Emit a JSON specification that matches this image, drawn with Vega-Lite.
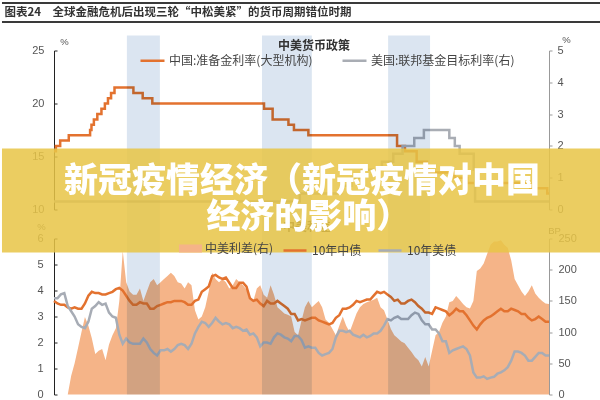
{
  "$schema": "https://vega.github.io/schema/vega-lite/v6.json",
  "padding": {"left": 0, "top": 1.5, "right": 0, "bottom": 0},
  "bounds": "flush",
  "spacing": 29,
  "config": {
    "view": {"stroke": null},
    "font": "Liberation Sans, Noto Sans CJK SC",
    "axis": {"labelFont": "Liberation Sans", "labelFontSize": 11, "labelColor": "#555", "grid": false, "domainWidth": 1, "tickWidth": 1, "titleFont": "Liberation Sans", "titleFontSize": 9.5, "titleFontWeight": "normal", "titleColor": "#555", "titleAngle": 0, "titleAlign": "center", "titleBaseline": "middle"},
    "legend": {"labelFont": "Noto Sans CJK SC", "labelFontSize": 12, "labelColor": "#444"}
  },
  "resolve": {
    "scale": {"color": "independent", "fill": "independent", "stroke": "independent"},
    "legend": {"color": "independent", "fill": "independent", "stroke": "independent"}
  },
  "datasets": {
    "rrr": [
      {"m": 0, "v": 15.5}, {"m": 0.55, "v": 16}, {"m": 1.8, "v": 16.5}, {"m": 4.3, "v": 17}, {"m": 10.5, "v": 17.5}, {"m": 10.9, "v": 18}, {"m": 11.6, "v": 18.5}, {"m": 12.6, "v": 19}, {"m": 13.8, "v": 19.5}, {"m": 14.8, "v": 20}, {"m": 15.7, "v": 20.5}, {"m": 16.6, "v": 21}, {"m": 17.6, "v": 21.5}, {"m": 23.1, "v": 21}, {"m": 25.8, "v": 20.5}, {"m": 28.6, "v": 20}, {"m": 61.1, "v": 19.5}, {"m": 63.6, "v": 18.5}, {"m": 68.2, "v": 18}, {"m": 69.8, "v": 17.5}, {"m": 74, "v": 17}, {"m": 99.8, "v": 16}, {"m": 102.1, "v": 15.5}, {"m": 105.5, "v": 14.5}, {"m": 108.5, "v": 14}, {"m": 108.8, "v": 13.5}, {"m": 116.5, "v": 13}, {"m": 120.2, "v": 12.5}, {"m": 138.5, "v": 12}, {"m": 143.5, "v": 11.5}, {"m": 144, "v": 11.5}
    ],
    "ffr": [
      {"m": 0, "v": 0.25}, {"m": 71.5, "v": 0.5}, {"m": 83.5, "v": 0.75}, {"m": 86.5, "v": 1}, {"m": 89.5, "v": 1.25}, {"m": 95.4, "v": 1.5}, {"m": 98.7, "v": 1.75}, {"m": 101.4, "v": 2}, {"m": 104.8, "v": 2.25}, {"m": 107.6, "v": 2.5}, {"m": 115, "v": 2.25}, {"m": 116.6, "v": 2}, {"m": 118, "v": 1.75}, {"m": 122.1, "v": 1.25}, {"m": 122.5, "v": 0.25}, {"m": 144, "v": 0.25}
    ],
    "bands": [
      {"s": 21.2, "e": 30.8}, {"s": 60.5, "e": 75}, {"s": 97.2, "e": 109.4}
    ],
    "bond": [
      {"m": 0, "cn": 3.6, "us": 3.7, "sp": 0}, {"m": 1, "cn": 3.5, "us": 3.7, "sp": 0}, {"m": 2, "cn": 3.45, "us": 3.85, "sp": 0}, {"m": 3, "cn": 3.45, "us": 3.9, "sp": 0}, {"m": 4, "cn": 3.35, "us": 3.4, "sp": 0}, {"m": 5, "cn": 3.3, "us": 3.2, "sp": 30}, {"m": 6, "cn": 3.35, "us": 3.0, "sp": 50}, {"m": 7, "cn": 3.3, "us": 2.7, "sp": 75}, {"m": 8, "cn": 3.3, "us": 2.6, "sp": 100}, {"m": 9, "cn": 3.5, "us": 2.55, "sp": 124},
      {"m": 10, "cn": 3.8, "us": 2.8, "sp": 110}, {"m": 11, "cn": 3.95, "us": 3.3, "sp": 90}, {"m": 12, "cn": 3.9, "us": 3.4, "sp": 65}, {"m": 13, "cn": 3.9, "us": 3.55, "sp": 70}, {"m": 14, "cn": 3.85, "us": 3.45, "sp": 73}, {"m": 15, "cn": 3.85, "us": 3.5, "sp": 55}, {"m": 16, "cn": 3.9, "us": 3.15, "sp": 80}, {"m": 17, "cn": 3.95, "us": 3.0, "sp": 95}, {"m": 18, "cn": 4.05, "us": 2.95, "sp": 106}, {"m": 19, "cn": 4.1, "us": 2.3, "sp": 150},
      {"m": 20, "cn": 4.0, "us": 1.95, "sp": 230}, {"m": 21, "cn": 3.8, "us": 2.15, "sp": 180}, {"m": 22, "cn": 3.6, "us": 2.0, "sp": 165}, {"m": 23, "cn": 3.45, "us": 1.95, "sp": 160}, {"m": 24, "cn": 3.45, "us": 1.95, "sp": 160}, {"m": 25, "cn": 3.55, "us": 1.95, "sp": 170}, {"m": 26, "cn": 3.5, "us": 2.15, "sp": 150}, {"m": 27, "cn": 3.5, "us": 2.0, "sp": 165}, {"m": 28, "cn": 3.3, "us": 1.75, "sp": 180}, {"m": 29, "cn": 3.3, "us": 1.6, "sp": 185},
      {"m": 30, "cn": 3.4, "us": 1.5, "sp": 175}, {"m": 31, "cn": 3.45, "us": 1.7, "sp": 180}, {"m": 32, "cn": 3.5, "us": 1.7, "sp": 185}, {"m": 33, "cn": 3.55, "us": 1.75, "sp": 190}, {"m": 34, "cn": 3.55, "us": 1.65, "sp": 195}, {"m": 35, "cn": 3.6, "us": 1.75, "sp": 190}, {"m": 36, "cn": 3.6, "us": 1.9, "sp": 180}, {"m": 37, "cn": 3.6, "us": 1.95, "sp": 178}, {"m": 38, "cn": 3.55, "us": 1.9, "sp": 170}, {"m": 39, "cn": 3.45, "us": 1.75, "sp": 180},
      {"m": 40, "cn": 3.45, "us": 1.95, "sp": 175}, {"m": 41, "cn": 3.6, "us": 2.35, "sp": 135}, {"m": 42, "cn": 3.65, "us": 2.6, "sp": 120}, {"m": 43, "cn": 3.95, "us": 2.8, "sp": 125}, {"m": 44, "cn": 4.05, "us": 2.75, "sp": 140}, {"m": 45, "cn": 4.15, "us": 2.6, "sp": 165}, {"m": 46, "cn": 4.55, "us": 2.75, "sp": 195}, {"m": 47, "cn": 4.6, "us": 2.95, "sp": 185}, {"m": 48, "cn": 4.5, "us": 2.8, "sp": 180}, {"m": 49, "cn": 4.45, "us": 2.7, "sp": 185},
      {"m": 50, "cn": 4.5, "us": 2.75, "sp": 180}, {"m": 51, "cn": 4.3, "us": 2.7, "sp": 170}, {"m": 52, "cn": 4.1, "us": 2.55, "sp": 175}, {"m": 53, "cn": 4.1, "us": 2.6, "sp": 185}, {"m": 54, "cn": 4.3, "us": 2.55, "sp": 180}, {"m": 55, "cn": 4.3, "us": 2.45, "sp": 175}, {"m": 56, "cn": 4.15, "us": 2.5, "sp": 168}, {"m": 57, "cn": 3.7, "us": 2.3, "sp": 155}, {"m": 58, "cn": 3.6, "us": 2.35, "sp": 150}, {"m": 59, "cn": 3.65, "us": 2.2, "sp": 170},
      {"m": 60, "cn": 3.5, "us": 1.85, "sp": 175}, {"m": 61, "cn": 3.4, "us": 2.0, "sp": 160}, {"m": 62, "cn": 3.6, "us": 2.0, "sp": 155}, {"m": 63, "cn": 3.5, "us": 1.95, "sp": 175}, {"m": 64, "cn": 3.5, "us": 2.2, "sp": 160}, {"m": 65, "cn": 3.6, "us": 2.35, "sp": 140}, {"m": 66, "cn": 3.5, "us": 2.3, "sp": 135}, {"m": 67, "cn": 3.4, "us": 2.2, "sp": 130}, {"m": 68, "cn": 3.3, "us": 2.15, "sp": 128}, {"m": 69, "cn": 3.1, "us": 2.05, "sp": 125},
      {"m": 70, "cn": 3.1, "us": 2.25, "sp": 100}, {"m": 71, "cn": 2.85, "us": 2.25, "sp": 95}, {"m": 72, "cn": 2.9, "us": 2.1, "sp": 118}, {"m": 73, "cn": 2.85, "us": 1.8, "sp": 140}, {"m": 74, "cn": 2.9, "us": 1.85, "sp": 150}, {"m": 75, "cn": 2.95, "us": 1.8, "sp": 140}, {"m": 76, "cn": 2.95, "us": 1.8, "sp": 145}, {"m": 77, "cn": 2.85, "us": 1.6, "sp": 150}, {"m": 78, "cn": 2.8, "us": 1.5, "sp": 140}, {"m": 79, "cn": 2.75, "us": 1.55, "sp": 120},
      {"m": 80, "cn": 2.7, "us": 1.6, "sp": 115}, {"m": 81, "cn": 2.75, "us": 1.75, "sp": 105}, {"m": 82, "cn": 2.95, "us": 2.2, "sp": 95}, {"m": 83, "cn": 3.05, "us": 2.45, "sp": 110}, {"m": 84, "cn": 3.3, "us": 2.45, "sp": 125}, {"m": 85, "cn": 3.3, "us": 2.4, "sp": 110}, {"m": 86, "cn": 3.35, "us": 2.45, "sp": 100}, {"m": 87, "cn": 3.45, "us": 2.3, "sp": 115}, {"m": 88, "cn": 3.6, "us": 2.25, "sp": 130}, {"m": 89, "cn": 3.55, "us": 2.2, "sp": 140},
      {"m": 90, "cn": 3.6, "us": 2.3, "sp": 145}, {"m": 91, "cn": 3.65, "us": 2.2, "sp": 148}, {"m": 92, "cn": 3.65, "us": 2.25, "sp": 150}, {"m": 93, "cn": 3.8, "us": 2.35, "sp": 152}, {"m": 94, "cn": 3.95, "us": 2.35, "sp": 155}, {"m": 95, "cn": 3.9, "us": 2.45, "sp": 140}, {"m": 96, "cn": 3.95, "us": 2.65, "sp": 135}, {"m": 97, "cn": 3.85, "us": 2.9, "sp": 120}, {"m": 98, "cn": 3.75, "us": 2.85, "sp": 105}, {"m": 99, "cn": 3.6, "us": 2.95, "sp": 95},
      {"m": 100, "cn": 3.65, "us": 3.0, "sp": 90}, {"m": 101, "cn": 3.5, "us": 2.9, "sp": 85}, {"m": 102, "cn": 3.5, "us": 2.9, "sp": 82}, {"m": 103, "cn": 3.6, "us": 2.9, "sp": 75}, {"m": 104, "cn": 3.65, "us": 3.05, "sp": 68}, {"m": 105, "cn": 3.55, "us": 3.15, "sp": 60}, {"m": 106, "cn": 3.4, "us": 3.1, "sp": 55}, {"m": 107, "cn": 3.3, "us": 2.85, "sp": 45}, {"m": 108, "cn": 3.15, "us": 2.7, "sp": 60}, {"m": 109, "cn": 3.15, "us": 2.7, "sp": 45},
      {"m": 110, "cn": 3.1, "us": 2.5, "sp": 70}, {"m": 111, "cn": 3.35, "us": 2.5, "sp": 95}, {"m": 112, "cn": 3.3, "us": 2.35, "sp": 100}, {"m": 113, "cn": 3.25, "us": 2.05, "sp": 115}, {"m": 114, "cn": 3.2, "us": 2.05, "sp": 125}, {"m": 115, "cn": 3.05, "us": 1.6, "sp": 148}, {"m": 116, "cn": 3.15, "us": 1.7, "sp": 150}, {"m": 117, "cn": 3.3, "us": 1.75, "sp": 158}, {"m": 118, "cn": 3.2, "us": 1.8, "sp": 152}, {"m": 119, "cn": 3.2, "us": 1.85, "sp": 145},
      {"m": 120, "cn": 3.05, "us": 1.75, "sp": 140}, {"m": 121, "cn": 2.85, "us": 1.5, "sp": 138}, {"m": 122, "cn": 2.65, "us": 0.85, "sp": 150}, {"m": 123, "cn": 2.5, "us": 0.65, "sp": 198}, {"m": 124, "cn": 2.7, "us": 0.65, "sp": 202}, {"m": 125, "cn": 2.85, "us": 0.7, "sp": 210}, {"m": 126, "cn": 2.95, "us": 0.6, "sp": 225}, {"m": 127, "cn": 3.0, "us": 0.65, "sp": 240}, {"m": 128, "cn": 3.1, "us": 0.68, "sp": 245}, {"m": 129, "cn": 3.2, "us": 0.8, "sp": 245},
      {"m": 130, "cn": 3.3, "us": 0.85, "sp": 247}, {"m": 131, "cn": 3.2, "us": 0.93, "sp": 240}, {"m": 132, "cn": 3.2, "us": 1.05, "sp": 235}, {"m": 133, "cn": 3.3, "us": 1.3, "sp": 215}, {"m": 134, "cn": 3.25, "us": 1.65, "sp": 185}, {"m": 135, "cn": 3.2, "us": 1.65, "sp": 175}, {"m": 136, "cn": 3.1, "us": 1.6, "sp": 165}, {"m": 137, "cn": 3.1, "us": 1.5, "sp": 158}, {"m": 138, "cn": 2.95, "us": 1.3, "sp": 165}, {"m": 139, "cn": 2.85, "us": 1.3, "sp": 175},
      {"m": 140, "cn": 2.9, "us": 1.45, "sp": 162}, {"m": 141, "cn": 3.0, "us": 1.6, "sp": 155}, {"m": 142, "cn": 2.9, "us": 1.6, "sp": 150}, {"m": 143, "cn": 2.8, "us": 1.5, "sp": 146}, {"m": 144, "cn": 2.8, "us": 1.5, "sp": 145}
    ]
  },
  "vconcat": [
    {
      "width": 495,
      "height": 159,
      "resolve": {"scale": {"y": "independent"}},
      "layer": [
        {
          "data": {"name": "rrr"},
          "mark": {"type": "line", "interpolate": "step-after", "strokeWidth": 2.5},
          "encoding": {
            "x": {"field": "m", "type": "quantitative", "scale": {"domain": [0, 144], "nice": false, "zero": false}, "axis": null},
            "y": {"field": "v", "type": "quantitative", "scale": {"domain": [10, 25], "nice": false, "zero": false},
                  "axis": {"orient": "left", "values": [10, 15, 20, 25], "tickSize": -3, "labelPadding": 13, "domainColor": "#222", "tickColor": "#222", "title": "%", "titleX": 10, "titleY": -9}},
            "color": {"datum": "中国:准备金利率(大型机构)",
                      "scale": {"domain": ["中国:准备金利率(大型机构)", "美国:联邦基金目标利率(右)"], "range": ["#e3722f", "#a9adb4"]},
                      "legend": {"orient": "none", "legendX": 85, "legendY": -3.5, "direction": "horizontal", "title": null, "symbolType": "stroke", "symbolSize": 576, "symbolStrokeWidth": 2.5, "labelOffset": 3, "columnPadding": 24}}
          }
        },
        {
          "data": {"name": "ffr"},
          "mark": {"type": "line", "interpolate": "step-after", "strokeWidth": 2.5},
          "encoding": {
            "x": {"field": "m", "type": "quantitative", "scale": {"domain": [0, 144], "nice": false, "zero": false}, "axis": null},
            "y": {"field": "v", "type": "quantitative", "scale": {"domain": [0, 5], "nice": false},
                  "axis": {"orient": "right", "values": [0, 1, 2, 3, 4, 5], "tickSize": 3, "labelPadding": 5, "domainColor": "#999", "tickColor": "#999", "title": "%", "titleX": 17, "titleY": -11}},
            "color": {"datum": "美国:联邦基金目标利率(右)"}
          }
        },
        {
          "data": {"name": "bands"},
          "mark": {"type": "rect", "color": "#dbe5f1", "blend": "multiply", "clip": false},
          "encoding": {
            "x": {"field": "s", "type": "quantitative", "scale": {"domain": [0, 144], "nice": false, "zero": false}, "axis": null},
            "x2": {"field": "e"},
            "y": {"datum": 10, "type": "quantitative", "scale": {"domain": [10, 25], "nice": false, "zero": false}, "axis": null},
            "y2": {"datum": 26.415}
          }
        },
        {
          "data": {"values": [{}]},
          "mark": {"type": "rule", "color": "#3a3a3a", "strokeWidth": 2, "clip": false},
          "encoding": {
            "x": {"datum": -15.13, "type": "quantitative", "scale": {"domain": [0, 144], "nice": false, "zero": false}, "axis": null},
            "x2": {"datum": 159.42},
            "y": {"datum": 29.48, "type": "quantitative", "scale": {"domain": [10, 25], "nice": false, "zero": false}, "axis": null}
          }
        },
        {
          "data": {"values": [{}]},
          "mark": {"type": "rule", "color": "#3a3a3a", "strokeWidth": 2, "clip": false},
          "encoding": {
            "x": {"datum": -15.13, "type": "quantitative", "scale": {"domain": [0, 144], "nice": false, "zero": false}, "axis": null},
            "x2": {"datum": 159.42},
            "y": {"datum": 27.69, "type": "quantitative", "scale": {"domain": [10, 25], "nice": false, "zero": false}, "axis": null}
          }
        },
        {
          "data": {"values": [{}]},
          "mark": {"type": "text", "align": "left", "baseline": "middle", "font": "Noto Sans CJK SC", "fontSize": 11.5, "fontWeight": "bold", "color": "#333", "clip": false},
          "encoding": {
            "x": {"datum": -14.4, "type": "quantitative", "scale": {"domain": [0, 144], "nice": false, "zero": false}, "axis": null},
            "y": {"datum": 28.58, "type": "quantitative", "scale": {"domain": [10, 25], "nice": false, "zero": false}, "axis": null},
            "text": {"value": "图表24　全球金融危机后出现三轮“中松美紧”的货币周期错位时期"}
          }
        },
        {
          "data": {"values": [{}]},
          "mark": {"type": "text", "align": "center", "baseline": "middle", "font": "Noto Sans CJK SC", "fontSize": 12, "fontWeight": "bold", "color": "#333", "clip": false},
          "encoding": {
            "x": {"datum": 75.6, "type": "quantitative", "scale": {"domain": [0, 144], "nice": false, "zero": false}, "axis": null},
            "y": {"datum": 25.47, "type": "quantitative", "scale": {"domain": [10, 25], "nice": false, "zero": false}, "axis": null},
            "text": {"value": "中美货币政策"}
          }
        }
      ]
    },
    {
      "width": 495,
      "height": 156,
      "resolve": {"scale": {"y": "independent"}},
      "layer": [
        {
          "data": {"name": "bond"},
          "mark": {"type": "area"},
          "encoding": {
            "x": {"field": "m", "type": "quantitative", "scale": {"domain": [0, 144], "nice": false, "zero": false}, "axis": null},
            "y": {"field": "sp", "type": "quantitative", "scale": {"domain": [0, 250], "nice": false},
                  "axis": {"orient": "right", "values": [0, 50, 100, 150, 200, 250], "tickSize": 3, "labelPadding": 6, "domainColor": "#999", "tickColor": "#999", "title": "BP", "titleX": 5, "titleY": -8}},
            "fill": {"datum": "中美利差(右)", "scale": {"domain": ["中美利差(右)"], "range": ["#f5b488"]},
                     "legend": {"orient": "none", "legendX": 125, "legendY": -1.5, "title": null, "symbolType": "M-1,-0.35H1V0.35H-1Z", "symbolSize": 529, "symbolStrokeWidth": 0, "labelOffset": 3}}
          }
        },
        {
          "data": {"name": "bond"},
          "mark": {"type": "line", "strokeWidth": 2.5},
          "encoding": {
            "x": {"field": "m", "type": "quantitative", "scale": {"domain": [0, 144], "nice": false, "zero": false}, "axis": null},
            "y": {"field": "cn", "type": "quantitative", "scale": {"domain": [0, 6], "nice": false},
                  "axis": {"orient": "left", "values": [0, 1, 2, 3, 4, 5, 6], "tickSize": -3, "labelPadding": 14, "domainColor": "#222", "tickColor": "#222", "title": "%", "titleX": -13, "titleY": -12}},
            "stroke": {"datum": "10年中债", "scale": {"domain": ["10年中债", "10年美债"], "range": ["#e3722f", "#a7acb5"]},
                       "legend": {"orient": "none", "legendX": 228, "legendY": -1, "direction": "horizontal", "title": null, "symbolType": "stroke", "symbolSize": 529, "symbolStrokeWidth": 2.5, "labelOffset": 4, "columnPadding": 11}}
          }
        },
        {
          "data": {"name": "bond"},
          "mark": {"type": "line", "strokeWidth": 2.5},
          "encoding": {
            "x": {"field": "m", "type": "quantitative", "scale": {"domain": [0, 144], "nice": false, "zero": false}, "axis": null},
            "y": {"field": "us", "type": "quantitative", "scale": {"domain": [0, 6], "nice": false}, "axis": null},
            "stroke": {"datum": "10年美债"}
          }
        },
        {
          "data": {"name": "bands"},
          "mark": {"type": "rect", "color": "#dbe5f1", "blend": "multiply", "clip": false},
          "encoding": {
            "x": {"field": "s", "type": "quantitative", "scale": {"domain": [0, 144], "nice": false, "zero": false}, "axis": null},
            "x2": {"field": "e"},
            "y": {"datum": 0, "type": "quantitative", "scale": {"domain": [0, 6], "nice": false}, "axis": null},
            "y2": {"datum": 7.115}
          }
        },
        {
          "data": {"values": [{}]},
          "mark": {"type": "text", "align": "center", "baseline": "middle", "font": "Noto Sans CJK SC", "fontSize": 12, "fontWeight": "bold", "color": "#333", "clip": false},
          "encoding": {
            "x": {"datum": 73.6, "type": "quantitative", "scale": {"domain": [0, 144], "nice": false, "zero": false}, "axis": null},
            "y": {"datum": 6.46, "type": "quantitative", "scale": {"domain": [0, 6], "nice": false}, "axis": null},
            "text": {"value": "中美利差"}
          }
        },
        {
          "data": {"values": [{}]},
          "mark": {"type": "rect", "color": "#e8c547", "opacity": 0.86, "clip": false},
          "encoding": {
            "x": {"datum": -15.13, "type": "quantitative", "scale": {"domain": [0, 144], "nice": false, "zero": false}, "axis": null},
            "x2": {"datum": 159.42},
            "y": {"datum": 5.4615, "type": "quantitative", "scale": {"domain": [0, 6], "nice": false}, "axis": null},
            "y2": {"datum": 9.4615}
          }
        },
        {
          "data": {"values": [{}]},
          "mark": {"type": "text", "align": "center", "baseline": "middle", "font": "Noto Sans CJK SC", "fontSize": 34, "fontWeight": 900, "color": "#ffffff", "clip": false},
          "encoding": {
            "x": {"datum": 72.15, "type": "quantitative", "scale": {"domain": [0, 144], "nice": false, "zero": false}, "axis": null},
            "y": {"datum": 8.17, "type": "quantitative", "scale": {"domain": [0, 6], "nice": false}, "axis": null},
            "text": {"value": "新冠疫情经济（新冠疫情对中国"}
          }
        },
        {
          "data": {"values": [{}]},
          "mark": {"type": "text", "align": "center", "baseline": "middle", "font": "Noto Sans CJK SC", "fontSize": 34, "fontWeight": 900, "color": "#ffffff", "clip": false},
          "encoding": {
            "x": {"datum": 74.0, "type": "quantitative", "scale": {"domain": [0, 144], "nice": false, "zero": false}, "axis": null},
            "y": {"datum": 6.8, "type": "quantitative", "scale": {"domain": [0, 6], "nice": false}, "axis": null},
            "text": {"value": "经济的影响）"}
          }
        }
      ]
    }
  ]
}
